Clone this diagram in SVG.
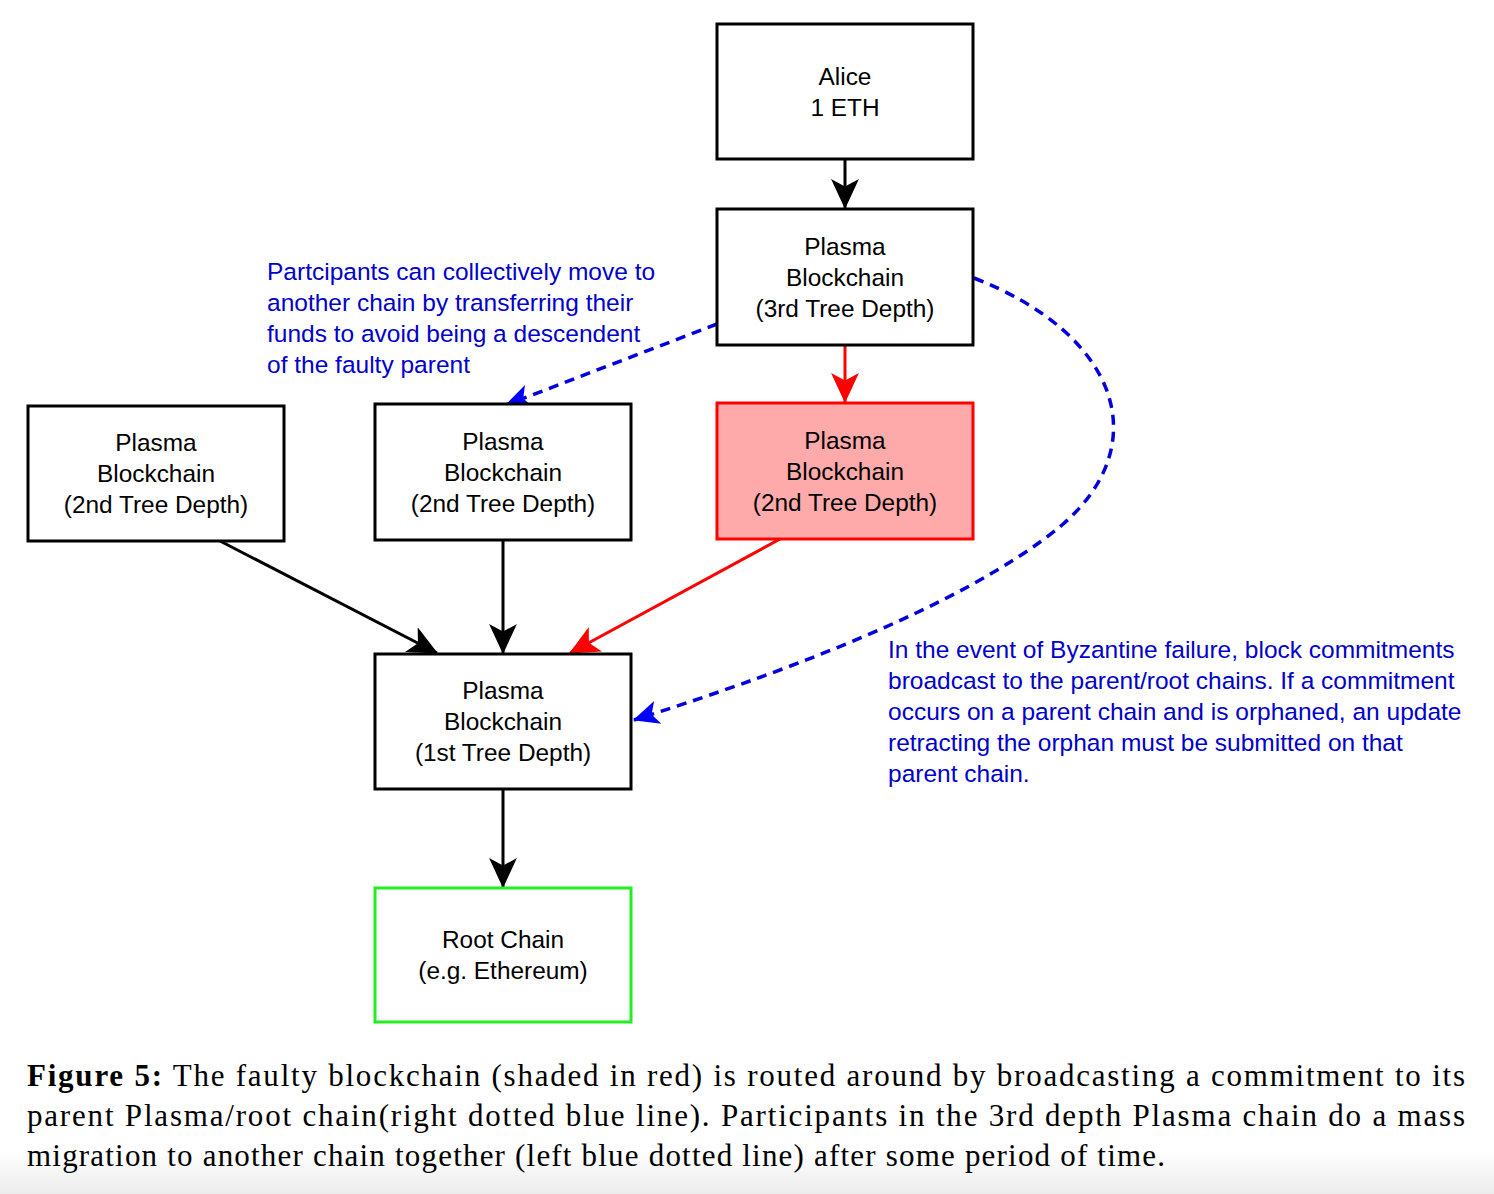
<svg xmlns="http://www.w3.org/2000/svg" width="1494" height="1194" viewBox="0 0 1494 1194">
<defs>
<style>
.box{fill:#fff;stroke:#000;stroke-width:3}
.lbl{font-family:"Liberation Sans",Arial,sans-serif;font-size:24.4px;fill:#000;text-anchor:middle}
.note{font-family:"Liberation Sans",Arial,sans-serif;font-size:24.5px;fill:#0000cc}
.cap{font-family:"Liberation Serif","Times New Roman",serif;font-size:31px;fill:#000}
.edge{fill:none;stroke-width:3}
.dash{fill:none;stroke:#0000dd;stroke-width:3.5;stroke-dasharray:10,7}
</style>
<marker id="ab" markerUnits="userSpaceOnUse" markerWidth="30" markerHeight="30" viewBox="0 0 28 28" refX="27" refY="14" orient="auto">
<path d="M0,1 L28,14 L0,27 L7,14 Z" fill="#000"/>
</marker>
<marker id="ar" markerUnits="userSpaceOnUse" markerWidth="30" markerHeight="30" viewBox="0 0 28 28" refX="27" refY="14" orient="auto">
<path d="M0,1 L28,14 L0,27 L7,14 Z" fill="#ff0000"/>
</marker>
<marker id="abl" markerUnits="userSpaceOnUse" markerWidth="26" markerHeight="26" viewBox="0 0 24 24" refX="23" refY="12" orient="auto">
<path d="M0,1 L24,12 L0,23 L6,12 Z" fill="#0000ff"/>
</marker>
<linearGradient id="bot" x1="0" y1="0" x2="0" y2="1">
<stop offset="0" stop-color="#fff"/>
<stop offset="1" stop-color="#ececec"/>
</linearGradient>
</defs>
<rect x="0" y="0" width="1494" height="1194" fill="#fff"/>
<rect x="0" y="1150" width="1494" height="44" fill="url(#bot)"/>

<g id="connectors">
<line class="edge" stroke="#000" x1="845" y1="159" x2="845" y2="208" marker-end="url(#ab)"/>
<line class="edge" stroke="#ff0000" x1="845" y1="345" x2="845" y2="402" marker-end="url(#ar)"/>
<line class="edge" stroke="#000" x1="220" y1="541" x2="437" y2="653" marker-end="url(#ab)"/>
<line class="edge" stroke="#000" x1="503" y1="540" x2="503" y2="653" marker-end="url(#ab)"/>
<line class="edge" stroke="#ff0000" x1="780" y1="539" x2="570" y2="653" marker-end="url(#ar)"/>
<line class="edge" stroke="#000" x1="503" y1="789" x2="503" y2="887" marker-end="url(#ab)"/>
<line class="dash" x1="717" y1="324" x2="506" y2="405" marker-end="url(#abl)"/>
<path class="dash" d="M974,278 C1120,335 1155,445 1062,525 C960,610 760,680 634,720" marker-end="url(#abl)"/>
</g>

<g id="alice">
<rect class="box" x="717" y="24" width="256" height="135"/>
<text class="lbl" x="845" y="85">Alice</text>
<text class="lbl" x="845" y="116">1 ETH</text>
</g>
<g id="plasma3">
<rect class="box" x="717" y="209" width="256" height="136"/>
<text class="lbl" x="845" y="255">Plasma</text>
<text class="lbl" x="845" y="286">Blockchain</text>
<text class="lbl" x="845" y="317">(3rd Tree Depth)</text>
</g>
<g id="plasma2red">
<rect x="717" y="403" width="256" height="136" fill="#ffaaaa" stroke="#ff0000" stroke-width="3"/>
<text class="lbl" x="845" y="449">Plasma</text>
<text class="lbl" x="845" y="480">Blockchain</text>
<text class="lbl" x="845" y="511">(2nd Tree Depth)</text>
</g>
<g id="plasma2mid">
<rect class="box" x="375" y="404" width="256" height="136"/>
<text class="lbl" x="503" y="450">Plasma</text>
<text class="lbl" x="503" y="481">Blockchain</text>
<text class="lbl" x="503" y="512">(2nd Tree Depth)</text>
</g>
<g id="plasma2left">
<rect class="box" x="28" y="406" width="256" height="135"/>
<text class="lbl" x="156" y="451">Plasma</text>
<text class="lbl" x="156" y="482">Blockchain</text>
<text class="lbl" x="156" y="513">(2nd Tree Depth)</text>
</g>
<g id="plasma1">
<rect class="box" x="375" y="654" width="256" height="135"/>
<text class="lbl" x="503" y="699">Plasma</text>
<text class="lbl" x="503" y="730">Blockchain</text>
<text class="lbl" x="503" y="761">(1st Tree Depth)</text>
</g>
<g id="root">
<rect x="375" y="888" width="256" height="134" fill="#fff" stroke="#22ee22" stroke-width="3"/>
<text class="lbl" x="503" y="948">Root Chain</text>
<text class="lbl" x="503" y="979">(e.g. Ethereum)</text>
</g>

<g id="note-left">
<text class="note" x="267" y="280">Partcipants can collectively move to</text>
<text class="note" x="267" y="311">another chain by transferring their</text>
<text class="note" x="267" y="342">funds to avoid being a descendent</text>
<text class="note" x="267" y="373">of the faulty parent</text>
</g>
<g id="note-right">
<text class="note" x="888" y="658">In the event of Byzantine failure, block commitments</text>
<text class="note" x="888" y="689">broadcast to the parent/root chains. If a commitment</text>
<text class="note" x="888" y="720">occurs on a parent chain and is orphaned, an update</text>
<text class="note" x="888" y="751">retracting the orphan must be submitted on that</text>
<text class="note" x="888" y="782">parent chain.</text>
</g>

<g id="caption">
<text class="cap" x="27" y="1086" textLength="1438" lengthAdjust="spacing"><tspan font-weight="bold">Figure 5:</tspan> The faulty blockchain (shaded in red) is routed around by broadcasting a commitment to its</text>
<text class="cap" x="27" y="1126" textLength="1438" lengthAdjust="spacing">parent Plasma/root chain(right dotted blue line). Participants in the 3rd depth Plasma chain do a mass</text>
<text class="cap" x="27" y="1166" textLength="1138" lengthAdjust="spacing">migration to another chain together (left blue dotted line) after some period of time.</text>
</g>
</svg>
